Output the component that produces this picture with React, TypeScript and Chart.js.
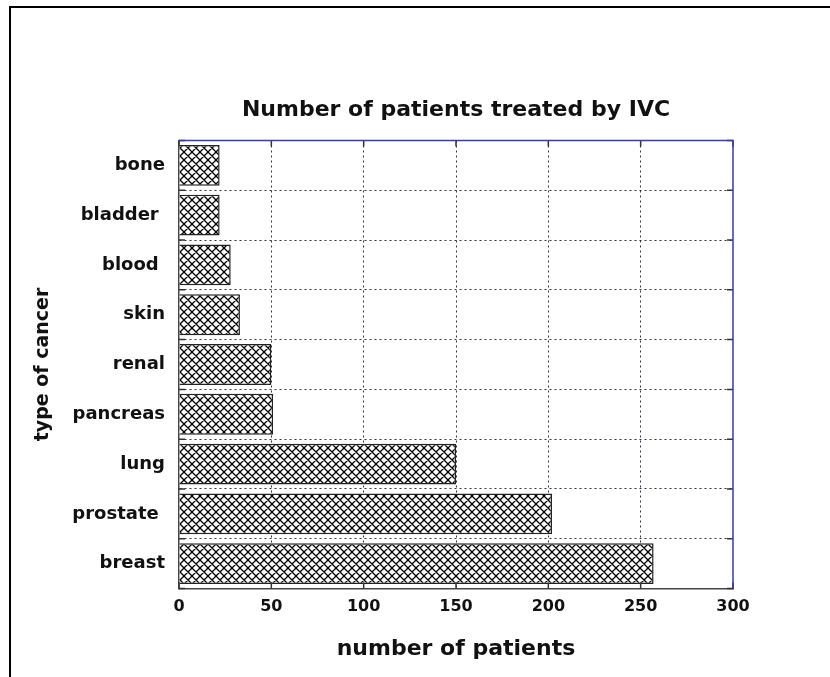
import React, { useEffect, useRef } from 'react';
import { Chart, registerables } from 'chart.js';

Chart.register(...registerables);

const categories = ['bone', 'bladder ', 'blood ', 'skin', 'renal', 'pancreas', 'lung', 'prostate ', 'breast'];
const patients = [22, 22, 28, 33, 50, 51, 150, 202, 257];
const xTicks = [0, 50, 100, 150, 200, 250, 300];

const FONT = 'DejaVu Sans';

function makeHatch(): CanvasPattern | string {
  const s = 8;
  const c = document.createElement('canvas');
  c.width = s;
  c.height = s;
  const g = c.getContext('2d');
  if (!g) return '#fff';
  g.fillStyle = '#ffffff';
  g.fillRect(0, 0, s, s);
  g.strokeStyle = '#000000';
  g.lineWidth = 1.3;
  g.beginPath();
  for (const k of [-1, 0, 1]) {
    g.moveTo(k * s, 0);
    g.lineTo(k * s + s, s);
    g.moveTo(k * s + s, 0);
    g.lineTo(k * s, s);
  }
  g.stroke();
  return g.createPattern(c, 'repeat') || '#fff';
}

const framePlugin = {
  id: 'frame',
  afterDraw(chart: any) {
    const { ctx, chartArea: a } = chart;
    const xs = chart.scales.x;
    const ys = chart.scales.y;
    ctx.save();
    ctx.strokeStyle = '#333';
    ctx.lineWidth = 1.5;
    ctx.beginPath();
    xTicks.forEach((v) => {
      const px = xs.getPixelForValue(v);
      ctx.moveTo(px, a.bottom);
      ctx.lineTo(px, a.bottom - 6);
      ctx.moveTo(px, a.top);
      ctx.lineTo(px, a.top + 6);
    });
    for (let i = 0; i <= categories.length; i++) {
      const py = ys.getPixelForValue(i - 0.5);
      ctx.moveTo(a.left, py);
      ctx.lineTo(a.left + 6, py);
      ctx.moveTo(a.right, py);
      ctx.lineTo(a.right - 6, py);
    }
    ctx.stroke();
    ctx.strokeStyle = '#3b3ba8';
    ctx.lineWidth = 1.5;
    ctx.beginPath();
    ctx.moveTo(a.left, a.top);
    ctx.lineTo(a.right, a.top);
    ctx.lineTo(a.right, a.bottom);
    ctx.stroke();
    ctx.restore();
  },
};

export default function App() {
  const ref = useRef<HTMLCanvasElement>(null);

  useEffect(() => {
    if (!ref.current) return;
    const hatch = makeHatch();
    const gridColor = 'rgba(30,30,50,0.9)';
    const chart = new Chart(ref.current, {
      type: 'bar',
      data: {
        labels: categories,
        datasets: [
          {
            data: patients,
            backgroundColor: hatch as any,
            borderColor: '#222',
            borderWidth: 1.5,
            categoryPercentage: 1,
            barPercentage: 0.82,
          },
        ],
      },
      options: {
        indexAxis: 'y',
        responsive: false,
        animation: false,
        layout: { padding: { left: 0, right: 97, top: 0, bottom: 0 } },
        plugins: {
          legend: { display: false },
          tooltip: { enabled: false },
          title: {
            display: true,
            fullSize: false,
            text: 'Number of patients treated by IVC',
            color: '#111',
            font: { family: FONT, size: 22, weight: 'bold' },
            padding: { top: 97.3, bottom: 16.8 },
          },
        },
        scales: {
          x: {
            min: 0,
            max: 300,
            afterBuildTicks: (scale: any) => {
              scale.ticks = xTicks.map((v) => ({ value: v }));
            },
            afterFit: (scale: any) => {
              scale.height = 677 - 588.5;
            },
            ticks: {
              color: '#111',
              font: { family: FONT, size: 16, weight: 'bold' },
              padding: 9,
            },
            grid: {
              drawTicks: false,
              lineWidth: 1,
              color: (ctx: any) =>
                ctx.tick && (ctx.tick.value === 0 || ctx.tick.value === 300) ? 'rgba(0,0,0,0)' : gridColor,
            },
            border: { display: true, color: '#444', width: 1.5, dash: [2, 3] },
            title: {
              display: true,
              text: 'number of patients',
              color: '#111',
              font: { family: FONT, size: 22, weight: 'bold' },
              padding: { top: 0, bottom: 14.8 },
            },
          },
          y: {
            afterFit: (scale: any) => {
              scale.width = 179;
            },
            ticks: {
              color: '#111',
              font: { family: FONT, size: 18, weight: 'bold' },
              padding: 14,
            },
            grid: {
              drawTicks: false,
              lineWidth: 1,
              color: (ctx: any) =>
                ctx.index === 0 || ctx.index === categories.length ? 'rgba(0,0,0,0)' : gridColor,
            },
            border: { display: true, color: '#444', width: 1.5, dash: [2, 3] },
            title: {
              display: true,
              text: 'type of cancer',
              color: '#111',
              font: { family: FONT, size: 19, weight: 'bold' },
              padding: { top: 31.6, bottom: 0 },
            },
          },
        },
      },
      plugins: [framePlugin],
    });
    return () => chart.destroy();
  }, []);

  return (
    <div
      style={{
        position: 'fixed',
        left: 0,
        top: 0,
        width: 830,
        height: 677,
        overflow: 'hidden',
        background: '#fff',
      }}
    >
      <div
        style={{
          position: 'absolute',
          left: 9,
          top: 6,
          width: 900,
          height: 800,
          borderLeft: '2px solid #000',
          borderTop: '2px solid #000',
        }}
      />
      <canvas
        ref={ref}
        width={830}
        height={677}
        style={{ position: 'absolute', left: 0, top: 0, display: 'block' }}
      />
    </div>
  );
}
